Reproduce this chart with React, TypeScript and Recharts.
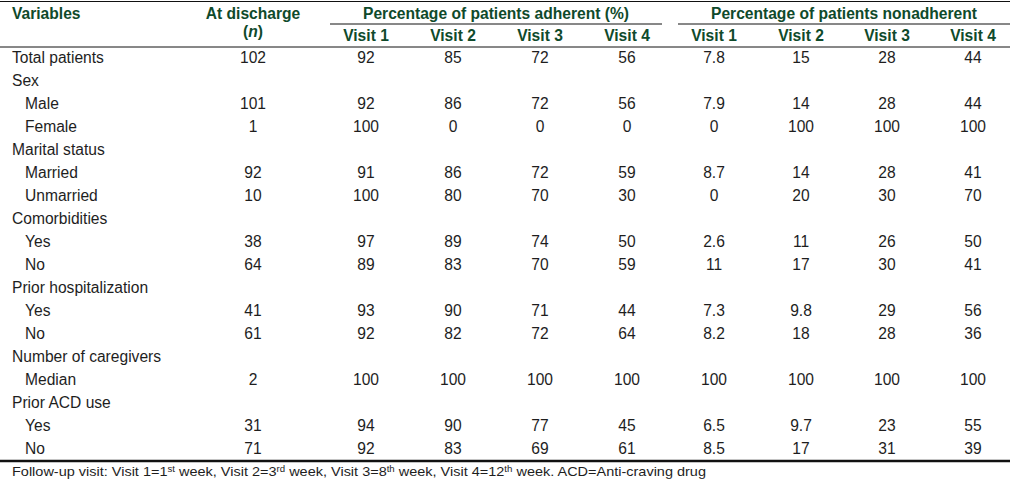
import React from "react";
import { ScatterChart, Scatter, XAxis, YAxis, ReferenceLine } from "recharts";

// ---------- data ----------
const variables = [
  "Total patients", "Sex", "Male", "Female", "Marital status", "Married", "Unmarried",
  "Comorbidities", "Yes", "No", "Prior hospitalization", "Yes", "No",
  "Number of caregivers", "Median", "Prior ACD use", "Yes", "No",
];
const isSubRow = [false, false, true, true, false, true, true, false, true, true, false, true, true, false, true, false, true, true];
const atDischarge: (number | null)[] = [102, null, 101, 1, null, 92, 10, null, 38, 64, null, 41, 61, null, 2, null, 31, 71];
const adherent: (number[] | null)[] = [
  [92, 85, 72, 56], null, [92, 86, 72, 56], [100, 0, 0, 0], null, [91, 86, 72, 59], [100, 80, 70, 30],
  null, [97, 89, 74, 50], [89, 83, 70, 59], null, [93, 90, 71, 44], [92, 82, 72, 64],
  null, [100, 100, 100, 100], null, [94, 90, 77, 45], [92, 83, 69, 61],
];
const nonadherent: (number[] | null)[] = [
  [7.8, 15, 28, 44], null, [7.9, 14, 28, 44], [0, 100, 100, 100], null, [8.7, 14, 28, 41], [0, 20, 30, 70],
  null, [2.6, 11, 26, 50], [11, 17, 30, 41], null, [7.3, 9.8, 29, 56], [8.2, 18, 28, 36],
  null, [100, 100, 100, 100], null, [6.5, 9.7, 23, 55], [8.5, 17, 31, 39],
];
const visitLabels = ["Visit 1", "Visit 2", "Visit 3", "Visit 4"];
const groupLabels = ["Percentage of patients adherent (%)", "Percentage of patients nonadherent"];
const headerVariables = "Variables";
const headerDischarge = "At discharge";
const footnoteParts: [string, string][] = [
  ["Follow-up visit: Visit 1=1", "st"],
  [" week, Visit 2=3", "rd"],
  [" week, Visit 3=8", "th"],
  [" week, Visit 4=12", "th"],
  [" week. ACD=Anti-craving drug", ""],
];

// ---------- layout ----------
const W = 1010;
const H = 480;
const ROW0 = 63; // baseline of first body row (px)
const ROWH = 23;
const Y_DOMAIN: [number, number] = [-ROW0 / ROWH, (H - ROW0) / ROWH];
const pxToRow = (px: number) => (px - ROW0) / ROWH;
const LABEL_X = 12;
const SUB_X = 25;
const DISCHARGE_X = 253;
const VISIT_X = [366, 453, 540, 627, 714, 801, 887, 973];
const GROUP_SPAN: [number, number][] = [[330, 662], [678, 1010]];
const FONT = "'Liberation Sans', Arial, Helvetica, sans-serif";
const NARROW = "'Liberation Sans Narrow', 'Liberation Sans', Arial, sans-serif";
const BODY = "#1e1e1e";
const HEAD = "#0f4a2b";
const FS = 15.6;

type Cell = { x: number; y: number; text: string; kind: string; anchor: string };

const cells: Cell[] = [];
// header
cells.push({ x: LABEL_X, y: pxToRow(18.5), text: headerVariables, kind: "head", anchor: "start" });
cells.push({ x: DISCHARGE_X, y: pxToRow(18.5), text: headerDischarge, kind: "head", anchor: "middle" });
cells.push({ x: DISCHARGE_X, y: pxToRow(37), text: "(n)", kind: "headN", anchor: "middle" });
groupLabels.forEach((g, i) =>
  cells.push({ x: (GROUP_SPAN[i][0] + GROUP_SPAN[i][1]) / 2, y: pxToRow(18.5), text: g, kind: "head", anchor: "middle" })
);
VISIT_X.forEach((vx, i) =>
  cells.push({ x: vx, y: pxToRow(40.5), text: visitLabels[i % 4], kind: "head", anchor: "middle" })
);
// body
variables.forEach((v, r) => {
  cells.push({ x: isSubRow[r] ? SUB_X : LABEL_X, y: r, text: v, kind: "body", anchor: "start" });
  const d = atDischarge[r];
  if (d !== null) cells.push({ x: DISCHARGE_X, y: r, text: String(d), kind: "body", anchor: "middle" });
  const a = adherent[r];
  const n = nonadherent[r];
  if (a) a.forEach((val, j) => cells.push({ x: VISIT_X[j], y: r, text: String(val), kind: "body", anchor: "middle" }));
  if (n) n.forEach((val, j) => cells.push({ x: VISIT_X[4 + j], y: r, text: String(val), kind: "body", anchor: "middle" }));
});
// footnote
cells.push({ x: LABEL_X, y: pxToRow(476), text: "", kind: "foot", anchor: "start" });

const CellShape = (props: any) => {
  const { cx, cy, payload } = props;
  if (cx == null || cy == null || !payload) return null;
  if (payload.kind === "foot") {
    return (
      <text x={cx} y={cy} fontFamily={NARROW} fontSize={13.5} fill={BODY} textLength={694} lengthAdjust="spacingAndGlyphs">
        {footnoteParts.map(([t, sup], i) => (
          <React.Fragment key={i}>
            <tspan dy={i === 0 ? 0 : 4}>{t}</tspan>
            {sup ? <tspan dy={-4} fontSize={9}>{sup}</tspan> : <tspan dy={0}></tspan>}
          </React.Fragment>
        ))}
      </text>
    );
  }
  if (payload.kind === "headN") {
    return (
      <text x={cx} y={cy} textAnchor="middle" fontFamily={FONT} fontSize={FS} fontWeight={700} fill={HEAD}>
        (<tspan fontStyle="italic">n</tspan>)
      </text>
    );
  }
  const head = payload.kind === "head";
  return (
    <text
      x={cx}
      y={cy}
      textAnchor={payload.anchor}
      fontFamily={FONT}
      fontSize={FS}
      fontWeight={head ? 700 : 400}
      fill={head ? HEAD : BODY}
    >
      {payload.text}
    </text>
  );
};

export default function App() {
  return (
    <div style={{ width: W, height: H, background: "#fff" }}>
      <style>{`body{margin:0;background:#fff}`}</style>
      <ScatterChart width={W} height={H} margin={{ top: 0, right: 0, bottom: 0, left: 0 }}>
        <XAxis type="number" dataKey="x" domain={[0, W]} hide allowDataOverflow />
        <YAxis type="number" dataKey="y" domain={Y_DOMAIN} reversed hide allowDataOverflow />
        <ReferenceLine segment={[{ x: 0, y: pxToRow(1.5) }, { x: W, y: pxToRow(1.5) }]} stroke="#111" strokeWidth={1} ifOverflow="visible" />
        <ReferenceLine segment={[{ x: 0, y: pxToRow(47) }, { x: W, y: pxToRow(47) }]} stroke="#111" strokeWidth={1} ifOverflow="visible" />
        <ReferenceLine segment={[{ x: 0, y: pxToRow(461) }, { x: W, y: pxToRow(461) }]} stroke="#111" strokeWidth={2.5} ifOverflow="visible" />
        {GROUP_SPAN.map((s, i) => (
          <ReferenceLine key={i} segment={[{ x: s[0], y: pxToRow(24) }, { x: s[1], y: pxToRow(24) }]} stroke="#111" strokeWidth={1} ifOverflow="visible" />
        ))}
        <Scatter data={cells} shape={CellShape} isAnimationActive={false} />
      </ScatterChart>
    </div>
  );
}
